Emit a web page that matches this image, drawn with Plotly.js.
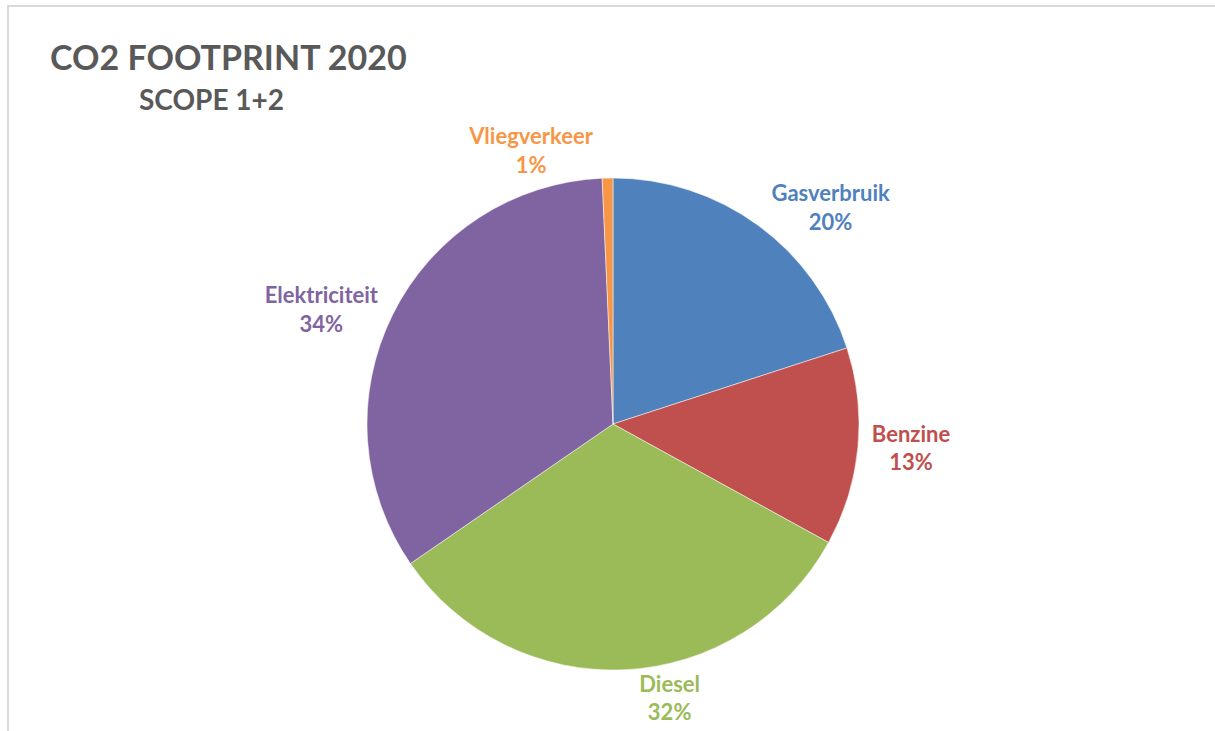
<!DOCTYPE html>
<html>
<head>
<meta charset="utf-8">
<script src="https://cdn.plot.ly/plotly-3.0.1.min.js"></script>
<style>
  html, body { margin: 0; padding: 0; background: #ffffff; }
  #chart { width: 1215px; height: 731px; }
  #frame { position: absolute; left: 7px; top: 5px; width: 1300px; height: 800px;
           border-left: 2px solid #d9d9d9; border-top: 2px solid #d9d9d9; pointer-events: none; }
</style>
</head>
<body>
<div id="chart"></div>
<div id="frame"></div>
<script>
const categories = ["Gasverbruik", "Benzine", "Diesel", "Elektriciteit", "Vliegverkeer"];
const values = [20.0, 13.0, 32.4, 33.9, 0.7];
const colors = ["#4F81BD", "#C0504D", "#9BBB59", "#8064A2", "#F79646"];
const titleText = "CO2 FOOTPRINT 2020";
const subtitleText = "SCOPE 1+2";

const W = 1215, H = 731;
const margin = { l: 367, r: 356, t: 178, b: 61 };
const plotW = W - margin.l - margin.r;
const plotH = H - margin.t - margin.b;
const fontFam = "Lato, 'Open Sans', sans-serif";

const trace = {
  type: "pie",
  labels: categories,
  values: values,
  sort: false,
  direction: "clockwise",
  rotation: 0,
  marker: { colors: colors, line: { color: "#ffffff", width: 0.5 } },
  textposition: "outside",
  texttemplate: "<b>%{label}</b><br><b>%{percent:.0%}</b>",
  textfont: { family: fontFam, size: 22, color: colors },
  outsidetextfont: { family: fontFam, size: 22, color: colors },
  hoverinfo: "label+percent",
  showlegend: false
};

const layout = {
  width: W, height: H,
  margin: margin,
  paper_bgcolor: "#ffffff",
  plot_bgcolor: "#ffffff",
  showlegend: false,
  title: {
    text: "<b>" + titleText + "</b>",
    font: { family: fontFam, size: 34, color: "#595959" },
    xref: "container", yref: "container",
    x: 50 / W, xanchor: "left",
    y: 1 - 58 / H, yanchor: "middle"
  },
  annotations: [{
    text: "<b>" + subtitleText + "</b>",
    xref: "paper", yref: "paper",
    x: (211 - margin.l) / plotW, xanchor: "center",
    y: 1 + (margin.t - 99) / plotH, yanchor: "middle",
    showarrow: false,
    font: { family: fontFam, size: 28, color: "#595959" }
  }]
};

Plotly.newPlot("chart", [trace], layout, { displayModeBar: false, staticPlot: true });
</script>
</body>
</html>
